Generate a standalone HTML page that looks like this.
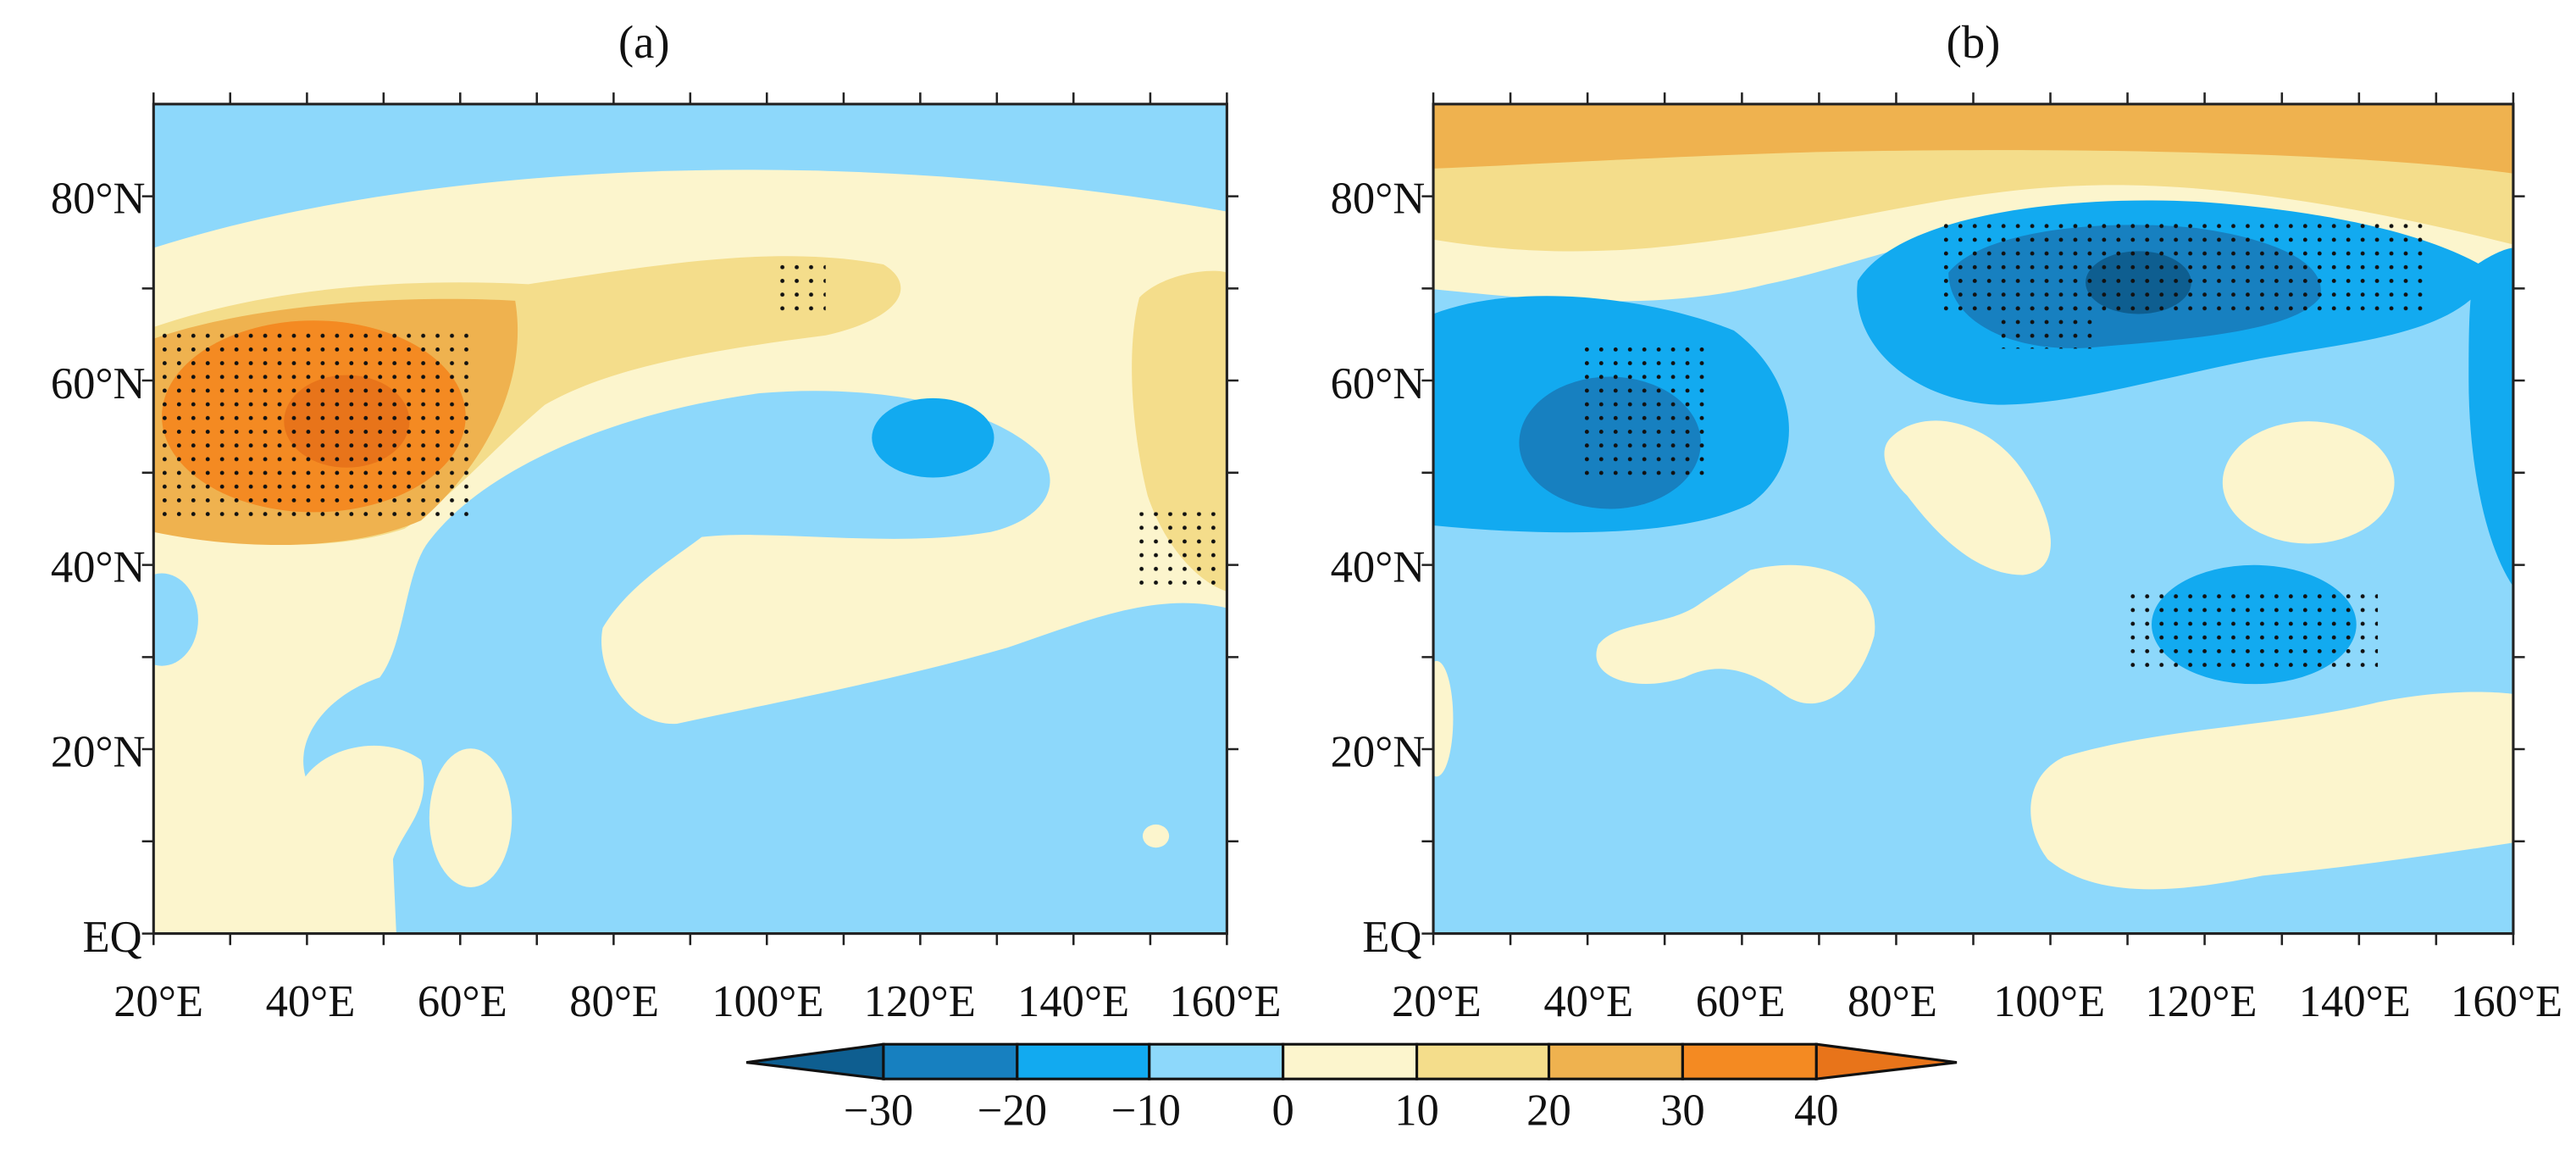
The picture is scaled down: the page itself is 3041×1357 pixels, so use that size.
<!DOCTYPE html>
<html><head><meta charset="utf-8"><style>
html,body{margin:0;padding:0;background:#fff;}
svg{display:block;}
text{font-family:"Liberation Serif",serif;fill:#111;}
</style></head><body>
<svg width="3041" height="1357" viewBox="0 0 1560 696" preserveAspectRatio="none" xmlns="http://www.w3.org/2000/svg">
<defs>
<pattern id="dots" x="0" y="0" width="8.7" height="8.3" patternUnits="userSpaceOnUse">
<circle cx="4" cy="4" r="1.25" fill="#111"/></pattern>
<clipPath id="ca"><rect x="93" y="63" width="650" height="502"/></clipPath>
<clipPath id="cb"><rect x="868" y="63" width="654" height="502"/></clipPath>
</defs>

<!-- Panel a -->
<g clip-path="url(#ca)">
<rect x="93" y="63" width="650" height="502" fill="#8dd8fb"/>
<path d="M93,150 C250,100 500,85 743,128 L743,565 L93,565 Z" fill="#fcf5cd"/>
<path d="M240,565 L238,520 C245,500 262,490 255,460 C235,445 200,450 185,470 C178,445 200,420 230,410 C245,390 245,350 258,330 C290,285 370,250 460,238 C530,232 600,245 630,275 C645,295 630,315 600,322 C540,332 470,320 425,325 C405,340 380,355 365,380 C360,405 380,440 410,438 C470,425 540,412 610,392 C660,375 700,358 743,368 L743,565 Z" fill="#8dd8fb"/>
<ellipse cx="285" cy="495" rx="25" ry="42" fill="#fcf5cd"/>
<ellipse cx="700" cy="506" rx="8" ry="7" fill="#fcf5cd"/>
<ellipse cx="98" cy="375" rx="22" ry="28" fill="#8dd8fb"/>
<path d="M93,198 C160,175 240,168 320,172 C400,160 470,148 535,160 C555,172 548,192 500,203 C430,212 370,222 330,245 C300,270 275,300 245,320 C200,335 140,330 93,322 Z" fill="#f4dd8b"/>
<path d="M690,180 C705,165 735,162 743,165 L743,358 C725,352 705,330 695,300 C685,260 682,210 690,180 Z" fill="#f4dd8b"/>
<path d="M93,205 C150,185 240,178 312,182 C320,230 295,280 255,315 C210,335 140,332 93,322 Z" fill="#efb24f"/>
<ellipse cx="190" cy="252" rx="92" ry="58" fill="#f48a22"/>
<ellipse cx="210" cy="255" rx="38" ry="28" fill="#e8741a"/>
<ellipse cx="565" cy="265" rx="37" ry="24" fill="#12aaf0"/>
<rect x="97" y="200" width="188" height="115" fill="url(#dots)"/>
<rect x="470" y="155" width="30" height="35" fill="url(#dots)"/>
<rect x="690" y="310" width="50" height="45" fill="url(#dots)"/>
</g>
<rect x="93" y="63" width="650" height="502" fill="none" stroke="#222" stroke-width="1.6"/>

<!-- Panel b -->
<g clip-path="url(#cb)">
<rect x="868" y="63" width="654" height="502" fill="#8dd8fb"/>
<path d="M868,63 L1522,63 L1522,175 C1450,160 1380,120 1300,125 C1200,128 1130,160 1070,172 C1000,190 920,180 868,175 Z" fill="#fcf5cd"/>
<path d="M868,63 L1522,63 L1522,148 C1450,130 1360,112 1280,112 C1180,112 1110,140 1000,150 C940,155 900,150 868,145 Z" fill="#f4dd8b"/>
<path d="M868,63 L1522,63 L1522,105 C1450,95 1300,88 1100,92 C1000,95 920,100 868,102 Z" fill="#efb24f"/>
<path d="M868,190 C920,170 1000,180 1050,200 C1090,230 1095,280 1060,305 C1020,325 940,325 868,318 Z" fill="#12aaf0"/>
<ellipse cx="975" cy="268" rx="55" ry="40" fill="#1780c0"/>
<path d="M1125,170 C1150,130 1250,118 1330,122 C1420,128 1480,145 1510,165 C1490,200 1440,205 1380,215 C1320,225 1260,245 1210,245 C1160,243 1120,210 1125,170 Z" fill="#12aaf0"/>
<path d="M1180,165 C1200,140 1270,132 1330,138 C1380,145 1410,160 1405,180 C1390,200 1330,205 1270,210 C1220,215 1180,195 1180,165 Z" fill="#1780c0"/>
<ellipse cx="1295" cy="171" rx="32" ry="19" fill="#0e5e90"/>
<path d="M1500,160 C1515,150 1522,150 1522,150 L1522,355 C1505,330 1495,280 1495,230 C1495,200 1495,175 1500,160 Z" fill="#12aaf0"/>
<ellipse cx="1365" cy="378" rx="62" ry="36" fill="#12aaf0"/>
<path d="M1145,265 C1165,245 1205,255 1225,285 C1245,315 1250,345 1225,348 C1195,348 1170,320 1155,300 C1140,285 1138,272 1145,265 Z" fill="#fcf5cd"/>
<ellipse cx="1398" cy="292" rx="52" ry="37" fill="#fcf5cd"/>
<path d="M1060,345 C1100,335 1140,350 1135,385 C1125,420 1100,435 1080,420 C1060,405 1040,400 1020,410 C990,420 960,410 968,390 C980,375 1010,380 1030,365 Z" fill="#fcf5cd"/>
<path d="M1250,458 C1310,440 1380,440 1440,425 C1490,415 1522,420 1522,420 L1522,510 C1470,518 1420,525 1370,530 C1320,540 1270,545 1240,520 C1225,500 1225,470 1250,458 Z" fill="#fcf5cd"/>
<ellipse cx="870" cy="435" rx="10" ry="35" fill="#fcf5cd"/>
<rect x="1175" y="130" width="295" height="58" fill="url(#dots)"/>
<rect x="1210" y="186" width="60" height="25" fill="url(#dots)"/>
<rect x="955" y="205" width="80" height="85" fill="url(#dots)"/>
<rect x="1290" y="355" width="150" height="50" fill="url(#dots)"/>
</g>
<rect x="868" y="63" width="654" height="502" fill="none" stroke="#222" stroke-width="1.6"/>

<!-- ticks -->
<g stroke="#222" stroke-width="1.3">
<path d="M93,63v-7M139.4,63v-7M185.9,63v-7M232.3,63v-7M278.7,63v-7M325.1,63v-7M371.6,63v-7M418,63v-7M464.4,63v-7M510.9,63v-7M557.3,63v-7M603.7,63v-7M650.1,63v-7M696.6,63v-7M743,63v-7"/>
<path d="M93,565v7M139.4,565v7M185.9,565v7M232.3,565v7M278.7,565v7M325.1,565v7M371.6,565v7M418,565v7M464.4,565v7M510.9,565v7M557.3,565v7M603.7,565v7M650.1,565v7M696.6,565v7M743,565v7"/>
<path d="M93,565h-7M93,509.2h-7M93,453.4h-7M93,397.7h-7M93,341.9h-7M93,286.1h-7M93,230.3h-7M93,174.6h-7M93,118.8h-7M743,509.2h7M743,453.4h7M743,397.7h7M743,341.9h7M743,286.1h7M743,230.3h7M743,174.6h7M743,118.8h7"/>
<path d="M868,63v-7M914.7,63v-7M961.4,63v-7M1008.1,63v-7M1054.9,63v-7M1101.6,63v-7M1148.3,63v-7M1195,63v-7M1241.7,63v-7M1288.4,63v-7M1335.1,63v-7M1381.9,63v-7M1428.6,63v-7M1475.3,63v-7M1522,63v-7"/>
<path d="M868,565v7M914.7,565v7M961.4,565v7M1008.1,565v7M1054.9,565v7M1101.6,565v7M1148.3,565v7M1195,565v7M1241.7,565v7M1288.4,565v7M1335.1,565v7M1381.9,565v7M1428.6,565v7M1475.3,565v7M1522,565v7"/>
<path d="M868,565h-7M868,509.2h-7M868,453.4h-7M868,397.7h-7M868,341.9h-7M868,286.1h-7M868,230.3h-7M868,174.6h-7M868,118.8h-7M1522,509.2h7M1522,453.4h7M1522,397.7h7M1522,341.9h7M1522,286.1h7M1522,230.3h7M1522,174.6h7M1522,118.8h7"/>
</g>

<!-- titles -->
<text x="390" y="35" font-size="28" text-anchor="middle">(a)</text>
<text x="1195" y="35" font-size="28" text-anchor="middle">(b)</text>

<!-- lat labels -->
<g font-size="27" text-anchor="end">
<text x="88" y="129">80°N</text><text x="88" y="241">60°N</text><text x="88" y="352">40°N</text><text x="88" y="464">20°N</text><text x="86" y="576">EQ</text>
<text x="863" y="129">80°N</text><text x="863" y="241">60°N</text><text x="863" y="352">40°N</text><text x="863" y="464">20°N</text><text x="861" y="576">EQ</text>
</g>
<!-- lon labels -->
<g font-size="27" text-anchor="middle">
<text x="96" y="615">20°E</text><text x="188" y="615">40°E</text><text x="280" y="615">60°E</text><text x="372" y="615">80°E</text><text x="465" y="615">100°E</text><text x="557" y="615">120°E</text><text x="650" y="615">140°E</text><text x="742" y="615">160°E</text>
<text x="870" y="615">20°E</text><text x="962" y="615">40°E</text><text x="1054" y="615">60°E</text><text x="1146" y="615">80°E</text><text x="1241" y="615">100°E</text><text x="1333" y="615">120°E</text><text x="1426" y="615">140°E</text><text x="1518" y="615">160°E</text>
</g>

<!-- colorbar -->
<g stroke="#111" stroke-width="1.6">
<path d="M535,632 L452,643 L535,653 Z" fill="#0e5e90"/>
<rect x="535" y="632" width="81" height="21" fill="#1780c0"/>
<rect x="616" y="632" width="80" height="21" fill="#12aaf0"/>
<rect x="696" y="632" width="81" height="21" fill="#8dd8fb"/>
<rect x="777" y="632" width="81" height="21" fill="#fcf5cd"/>
<rect x="858" y="632" width="80" height="21" fill="#f4dd8b"/>
<rect x="938" y="632" width="81" height="21" fill="#efb24f"/>
<rect x="1019" y="632" width="81" height="21" fill="#f48a22"/>
<path d="M1100,632 L1185,643 L1100,653 Z" fill="#e8741a"/>
</g>
<g font-size="27" text-anchor="middle">
<text x="532" y="681">−30</text><text x="613" y="681">−20</text><text x="694" y="681">−10</text><text x="777" y="681">0</text><text x="858" y="681">10</text><text x="938" y="681">20</text><text x="1019" y="681">30</text><text x="1100" y="681">40</text>
</g>
</svg>
</body></html>
